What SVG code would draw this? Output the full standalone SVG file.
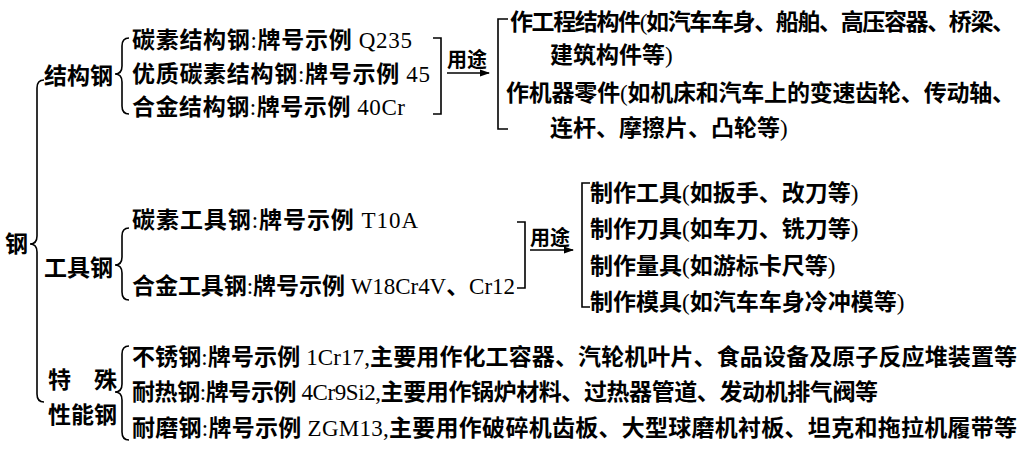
<svg xmlns="http://www.w3.org/2000/svg" width="1031" height="453" viewBox="0 0 1031 453">
<style>
text{font-family:"Liberation Serif","Noto Sans CJK SC",serif;font-size:23px;font-weight:bold;fill:#000}
.n{font-weight:normal}
.lbl{font-size:20px}
.ln{fill:none;stroke:#000;stroke-width:1.6}
</style>
<defs>
<marker id="ah" markerWidth="10" markerHeight="8" refX="9" refY="4" orient="auto" markerUnits="userSpaceOnUse">
<path d="M0,0.5 L10,4 L0,7.5 Z" fill="#000"/>
</marker>
</defs>
<rect width="1031" height="453" fill="#fff"/>
<g id="connectors">
<path class="ln" d="M44,80 Q37,80 37,88 V236 Q37,244 30,244 Q37,244 37,252 V394 Q37,402 44,402"/>
<path class="ln" d="M129,38 Q122,38 122,46 V66 Q122,74 115,74 Q122,74 122,82 V106 Q122,114 129,114"/>
<path class="ln" d="M129,228 Q122,228 122,236 V257 Q122,265 115,265 Q122,265 122,273 V292 Q122,300 129,300"/>
<path class="ln" d="M129,346 Q122,346 122,354 V384 Q122,392 115,392 Q122,392 122,400 V432 Q122,440 129,440"/>
<path class="ln" d="M433,38 H441 V114 H433"/>
<path class="ln" d="M508,19 H498 V129 H508"/>
<path class="ln" d="M447,73 H489" marker-end="url(#ah)"/>
<path class="ln" d="M517,222 H525 V288 H517"/>
<path class="ln" d="M590,183 H582 V307 H590"/>
<path class="ln" d="M530,250 H573" marker-end="url(#ah)"/>
</g>
<g id="root"><text x="5" y="252">钢</text></g>
<g id="struct">
<text x="44" y="84">结构钢</text>
<text x="132" y="48" textLength="280" lengthAdjust="spacing">碳素结构钢<tspan class="n">:</tspan>牌号示例<tspan class="n"> Q235</tspan></text>
<text x="132" y="82" textLength="298" lengthAdjust="spacing">优质碳素结构钢<tspan class="n">:</tspan>牌号示例<tspan class="n"> 45</tspan></text>
<text x="132" y="115" textLength="273" lengthAdjust="spacing">合金结构钢<tspan class="n">:</tspan>牌号示例<tspan class="n"> 40Cr</tspan></text>
</g>
<g id="struct-use">
<text class="lbl" x="447" y="67">用途</text>
<text x="510" y="30" textLength="505" lengthAdjust="spacing">作工程结构件<tspan class="n">(</tspan>如汽车车身、船舶、高压容器、桥梁、</text>
<text x="550" y="63">建筑构件等<tspan class="n">)</tspan></text>
<text x="506" y="101" textLength="509" lengthAdjust="spacing">作机器零件<tspan class="n">(</tspan>如机床和汽车上的变速齿轮、传动轴、</text>
<text x="550" y="136">连杆、摩擦片、凸轮等<tspan class="n">)</tspan></text>
</g>
<g id="tool">
<text x="44" y="276">工具钢</text>
<text x="132" y="228" textLength="286" lengthAdjust="spacing">碳素工具钢<tspan class="n">:</tspan>牌号示例<tspan class="n"> T10A</tspan></text>
<text x="132" y="294" textLength="383" lengthAdjust="spacing">合金工具钢<tspan class="n">:</tspan>牌号示例<tspan class="n"> W18Cr4V</tspan>、<tspan class="n">Cr12</tspan></text>
</g>
<g id="tool-use">
<text class="lbl" x="530" y="245">用途</text>
<text x="590" y="201">制作工具<tspan class="n">(</tspan>如扳手、改刀等<tspan class="n">)</tspan></text>
<text x="590" y="237">制作刀具<tspan class="n">(</tspan>如车刀、铣刀等<tspan class="n">)</tspan></text>
<text x="590" y="274">制作量具<tspan class="n">(</tspan>如游标卡尺等<tspan class="n">)</tspan></text>
<text x="590" y="310">制作模具<tspan class="n">(</tspan>如汽车车身冷冲模等<tspan class="n">)</tspan></text>
</g>
<g id="special">
<text x="48" y="388">特　殊</text>
<text x="48" y="423">性能钢</text>
<text x="132" y="365" textLength="885" lengthAdjust="spacing">不锈钢<tspan class="n">:</tspan>牌号示例<tspan class="n"> 1Cr17,</tspan>主要用作化工容器、汽轮机叶片、食品设备及原子反应堆装置等</text>
<text x="132" y="400" textLength="746" lengthAdjust="spacing">耐热钢<tspan class="n">:</tspan>牌号示例<tspan class="n"> 4Cr9Si2,</tspan>主要用作锅炉材料、过热器管道、发动机排气阀等</text>
<text x="132" y="436" textLength="885" lengthAdjust="spacing">耐磨钢<tspan class="n">:</tspan>牌号示例<tspan class="n"> ZGM13,</tspan>主要用作破碎机齿板、大型球磨机衬板、坦克和拖拉机履带等</text>
</g>
</svg>
